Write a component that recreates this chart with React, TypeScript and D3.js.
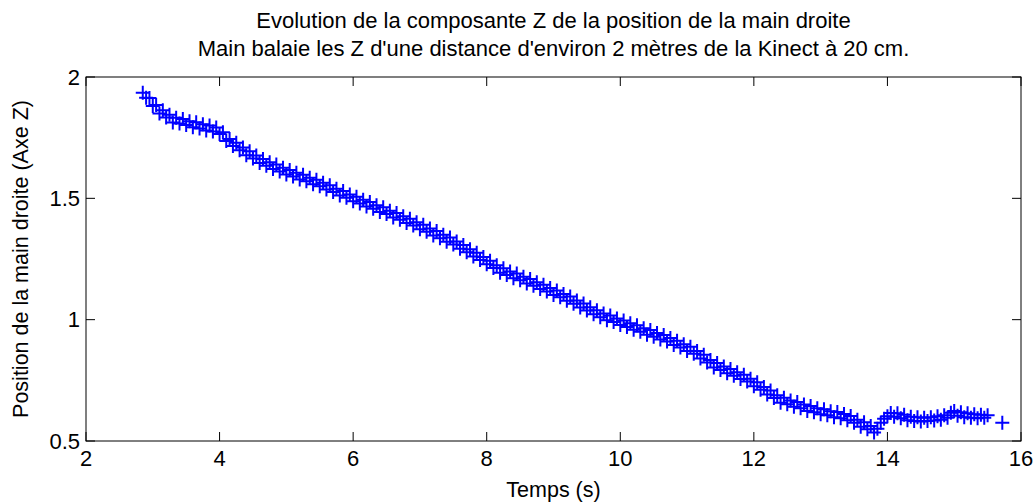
import React, { useRef, useEffect } from 'react';
import * as d3 from 'd3';

// Temps (s) des échantillons Kinect
const temps = [
  2.85, 2.9, 2.95, 3.0, 3.05, 3.1, 3.15, 3.2, 3.25, 3.3, 3.35, 3.4, 3.45, 3.5, 3.55, 3.6, 3.65, 3.7, 3.75, 3.8, 3.85, 3.9, 3.95,
  4.0, 4.05, 4.1, 4.15, 4.2, 4.25, 4.3, 4.35, 4.4, 4.45, 4.5, 4.55, 4.6, 4.65, 4.7, 4.75, 4.8, 4.85, 4.9, 4.95,
  5.0, 5.05, 5.1, 5.15, 5.2, 5.25, 5.3, 5.35, 5.4, 5.45, 5.5, 5.55, 5.6, 5.65, 5.7, 5.75, 5.8, 5.85, 5.9, 5.95,
  6.0, 6.05, 6.1, 6.15, 6.2, 6.25, 6.3, 6.35, 6.4, 6.45, 6.5, 6.55, 6.6, 6.65, 6.7, 6.75, 6.8, 6.85, 6.9, 6.95,
  7.0, 7.05, 7.1, 7.15, 7.2, 7.25, 7.3, 7.35, 7.4, 7.45, 7.5, 7.55, 7.6, 7.65, 7.7, 7.75, 7.8, 7.85, 7.9, 7.95,
  8.0, 8.05, 8.1, 8.15, 8.2, 8.25, 8.3, 8.35, 8.4, 8.45, 8.5, 8.55, 8.6, 8.65, 8.7, 8.75, 8.8, 8.85, 8.9, 8.95,
  9.0, 9.05, 9.1, 9.15, 9.2, 9.25, 9.3, 9.35, 9.4, 9.45, 9.5, 9.55, 9.6, 9.65, 9.7, 9.75, 9.8, 9.85, 9.9, 9.95,
  10.0, 10.05, 10.1, 10.15, 10.2, 10.25, 10.3, 10.35, 10.4, 10.45, 10.5, 10.55, 10.6, 10.65, 10.7, 10.75, 10.8, 10.85, 10.9, 10.95,
  11.0, 11.05, 11.1, 11.15, 11.2, 11.25, 11.3, 11.35, 11.4, 11.45, 11.5, 11.55, 11.6, 11.65, 11.7, 11.75, 11.8, 11.85, 11.9, 11.95,
  12.0, 12.05, 12.1, 12.15, 12.2, 12.25, 12.3, 12.35, 12.4, 12.45, 12.5, 12.55, 12.6, 12.65, 12.7, 12.75, 12.8, 12.85, 12.9, 12.95,
  13.0, 13.05, 13.1, 13.15, 13.2, 13.25, 13.3, 13.35, 13.4, 13.45, 13.5, 13.55, 13.6, 13.65, 13.7, 13.75, 13.8, 13.85, 13.9, 13.95,
  14.0, 14.05, 14.1, 14.15, 14.2, 14.25, 14.3, 14.35, 14.4, 14.45, 14.5, 14.55, 14.6, 14.65, 14.7, 14.75, 14.8, 14.85, 14.9, 14.95,
  15.0, 15.05, 15.1, 15.15, 15.2, 15.25, 15.3, 15.35, 15.4, 15.45, 15.5, 15.72,
];

// Position Z de la main droite (m)
const positionZ = [
  1.935, 1.914, 1.913, 1.880, 1.885, 1.850, 1.863, 1.833, 1.844, 1.813, 1.832, 1.808, 1.827, 1.802, 1.818, 1.793, 1.814, 1.788, 1.805, 1.780, 1.800, 1.775, 1.792,
  1.765, 1.772, 1.736, 1.745, 1.716, 1.729, 1.698, 1.709, 1.678, 1.694, 1.664, 1.676, 1.646, 1.662, 1.634, 1.649, 1.621, 1.639, 1.611, 1.626,
  1.598, 1.617, 1.590, 1.605, 1.578, 1.597, 1.570, 1.585, 1.558, 1.577, 1.550, 1.564, 1.536, 1.554, 1.526, 1.540, 1.512, 1.530, 1.502, 1.516,
  1.488, 1.507, 1.479, 1.494, 1.466, 1.485, 1.457, 1.472, 1.444, 1.463, 1.435, 1.449, 1.421, 1.440, 1.412, 1.426, 1.398, 1.416, 1.388, 1.401,
  1.373, 1.391, 1.362, 1.376, 1.347, 1.365, 1.336, 1.350, 1.321, 1.339, 1.310, 1.322, 1.292, 1.308, 1.278, 1.290, 1.260, 1.276, 1.246, 1.258,
  1.228, 1.243, 1.213, 1.224, 1.193, 1.212, 1.184, 1.199, 1.171, 1.190, 1.162, 1.177, 1.149, 1.168, 1.140, 1.154, 1.126, 1.144, 1.116, 1.130,
  1.102, 1.120, 1.092, 1.106, 1.078, 1.095, 1.066, 1.079, 1.050, 1.067, 1.038, 1.051, 1.022, 1.039, 1.010, 1.025, 0.998, 1.017, 0.990, 1.005,
  0.978, 0.997, 0.970, 0.985, 0.958, 0.977, 0.950, 0.965, 0.938, 0.957, 0.930, 0.945, 0.918, 0.937, 0.910, 0.924, 0.896, 0.913, 0.885, 0.899,
  0.871, 0.888, 0.860, 0.871, 0.840, 0.855, 0.823, 0.834, 0.803, 0.821, 0.793, 0.807, 0.779, 0.797, 0.769, 0.783, 0.755, 0.773, 0.745, 0.757,
  0.726, 0.742, 0.711, 0.723, 0.692, 0.708, 0.677, 0.689, 0.658, 0.678, 0.651, 0.667, 0.641, 0.661, 0.635, 0.650, 0.624, 0.644, 0.618, 0.635,
  0.610, 0.631, 0.606, 0.623, 0.598, 0.619, 0.594, 0.611, 0.586, 0.603, 0.575, 0.588, 0.559, 0.577, 0.548, 0.562, 0.535, 0.550, 0.575, 0.592,
  0.602, 0.615, 0.600, 0.614, 0.594, 0.608, 0.586, 0.600, 0.582, 0.598, 0.580, 0.596, 0.582, 0.598, 0.584, 0.602, 0.588, 0.606, 0.596, 0.616,
  0.624, 0.604, 0.618, 0.598, 0.614, 0.596, 0.610, 0.594, 0.608, 0.596, 0.606, 0.575,
];

const xTicks = [2, 4, 6, 8, 10, 12, 14, 16];
const yTicks = [0.5, 1, 1.5, 2];

const titre = [
  'Evolution de la composante Z de la position de la main droite',
  "Main balaie les Z d'une distance d'environ 2 mètres de la Kinect à 20 cm.",
];

const width = 1033;
const height = 502;
const margin = { left: 86, right: 12, top: 77, bottom: 61 };
const font = '"Liberation Sans", Arial, sans-serif';

const App = () => {
  const svgRef = useRef<SVGSVGElement>(null);

  useEffect(() => {
    const svg = d3.select(svgRef.current);
    svg.selectAll('*').remove();

    const x = d3.scaleLinear().domain([2, 16]).range([margin.left, width - margin.right]);
    const y = d3.scaleLinear().domain([0.5, 2]).range([height - margin.bottom, margin.top]);
    const x0 = x.range()[0], x1 = x.range()[1];
    const y0 = y.range()[0], y1 = y.range()[1];
    const tick = 9;

    svg.append('rect').attr('width', width).attr('height', height).attr('fill', '#fff');

    // titre sur deux lignes
    svg.selectAll('text.titre')
      .data(titre)
      .enter()
      .append('text')
      .attr('class', 'titre')
      .attr('x', (x0 + x1) / 2)
      .attr('y', (d, i) => 28 + i * 28)
      .attr('text-anchor', 'middle')
      .style('font-family', font)
      .style('font-size', '22px')
      .attr('fill', '#000')
      .text(d => d);

    // points (marqueurs +)
    const data = temps.map((t, i) => ({ t, z: positionZ[i] }));
    const s = 7;
    svg.append('g')
      .selectAll('path')
      .data(data)
      .enter()
      .append('path')
      .attr('d', d => {
        const px = x(d.t), py = y(d.z);
        return `M${px - s},${py}H${px + s}M${px},${py - s}V${py + s}`;
      })
      .attr('stroke', '#0000ff')
      .attr('stroke-width', 2)
      .attr('fill', 'none');

    // cadre + graduations (vers l'intérieur, en miroir)
    const axe = svg.append('g').attr('stroke', '#000').attr('stroke-width', 1).attr('fill', 'none');
    axe.append('rect')
      .attr('x', x0).attr('y', y1)
      .attr('width', x1 - x0).attr('height', y0 - y1);

    xTicks.forEach(v => {
      axe.append('line').attr('x1', x(v)).attr('x2', x(v)).attr('y1', y0).attr('y2', y0 - tick);
      axe.append('line').attr('x1', x(v)).attr('x2', x(v)).attr('y1', y1).attr('y2', y1 + tick);
    });
    yTicks.forEach(v => {
      axe.append('line').attr('x1', x0).attr('x2', x0 + tick).attr('y1', y(v)).attr('y2', y(v));
      axe.append('line').attr('x1', x1).attr('x2', x1 - tick).attr('y1', y(v)).attr('y2', y(v));
    });

    // étiquettes des graduations
    svg.append('g')
      .selectAll('text')
      .data(xTicks)
      .enter()
      .append('text')
      .attr('x', d => x(d))
      .attr('y', y0 + 25)
      .attr('text-anchor', 'middle')
      .style('font-family', font)
      .style('font-size', '22px')
      .text(d => d3.format('')(d));

    svg.append('g')
      .selectAll('text')
      .data(yTicks)
      .enter()
      .append('text')
      .attr('x', x0 - 6)
      .attr('y', d => y(d))
      .attr('dy', '0.35em')
      .attr('text-anchor', 'end')
      .style('font-family', font)
      .style('font-size', '22px')
      .text(d => d3.format('')(d));

    // titres des axes
    svg.append('text')
      .attr('x', (x0 + x1) / 2)
      .attr('y', 497)
      .attr('text-anchor', 'middle')
      .style('font-family', font)
      .style('font-size', '21.5px')
      .text('Temps (s)');

    svg.append('text')
      .attr('transform', `translate(28, ${(y0 + y1) / 2}) rotate(-90)`)
      .attr('text-anchor', 'middle')
      .style('font-family', font)
      .style('font-size', '21.5px')
      .text('Position de la main droite (Axe Z)');
  }, []);

  return (
    <div style={{ position: 'absolute', left: 0, top: 0 }}>
      <svg ref={svgRef} width={width} height={height} style={{ display: 'block' }}></svg>
    </div>
  );
};

export default App;
